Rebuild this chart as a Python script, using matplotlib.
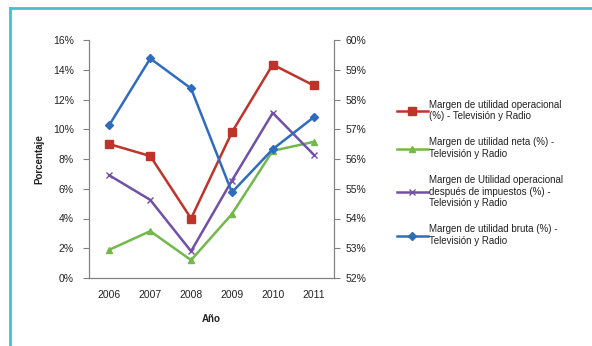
import matplotlib
matplotlib.use("Agg")
import matplotlib.pyplot as plt
from matplotlib.lines import Line2D

plt.rcParams["font.family"] = ["Liberation Sans", "DejaVu Sans"]

years = ["2006", "2007", "2008", "2009", "2010", "2011"]
op_margin = [9.0, 8.2, 4.0, 9.8, 14.35, 12.95]
net_margin = [1.9, 3.15, 1.2, 4.3, 8.55, 9.15]
op_after_tax = [6.9, 5.25, 1.8, 6.55, 11.1, 8.3]
gross_margin = [57.15, 59.38, 58.37, 54.88, 56.33, 57.4]

labels = [
    "Margen de utilidad operacional\n(%) - Televisión y Radio",
    "Margen de utilidad neta (%) -\nTelevisión y Radio",
    "Margen de Utilidad operacional\ndespués de impuestos (%) -\nTelevisión y Radio",
    "Margen de utilidad bruta (%) -\nTelevisión y Radio",
]

RED = "#c0332b"
GREEN = "#72b84a"
PURPLE = "#7050a8"
BLUE = "#2f6cc0"
GRAY = "#808080"
TXT = "#222222"

fig = plt.figure(figsize=(5.92, 3.46), dpi=100)
# cyan frame: top and left edges only
fig.add_artist(Line2D([10 / 592, 1], [1 - 8 / 346] * 2, color="#45c0d2", lw=2))
fig.add_artist(Line2D([10 / 592] * 2, [0, 1 - 8 / 346], color="#45c0d2", lw=2))

ax = fig.add_axes([89 / 592, (346 - 278) / 346, 245 / 592, 238 / 346])
ax2 = ax.twinx()
x = range(len(years))

h1, = ax.plot(x, op_margin, color=RED, lw=1.8, marker="s", ms=6, label=labels[0])
h2, = ax.plot(x, net_margin, color=GREEN, lw=1.8, marker="^", ms=4.5, label=labels[1])
h3, = ax.plot(x, op_after_tax, color=PURPLE, lw=1.8, marker="x", ms=5, mew=1, label=labels[2])
h4, = ax2.plot(x, gross_margin, color=BLUE, lw=1.8, marker="D", ms=3.8, label=labels[3])

ax.set_xlim(-0.5, 5.5)
ax.set_ylim(0, 16)
ax.set_yticks(range(0, 17, 2))
ax.set_yticklabels([f"{v}%" for v in range(0, 17, 2)])
ax2.set_ylim(52, 60)
ax2.set_yticks(range(52, 61))
ax2.set_yticklabels([f"{v}%" for v in range(52, 61)])
ax.set_xticks(list(x))
ax.set_xticklabels(years)

for a in (ax, ax2):
    a.spines["top"].set_visible(False)
    for s in ("left", "right", "bottom"):
        a.spines[s].set_color(GRAY)
ax.tick_params(axis="x", length=0, labelsize=7.5, labelcolor=TXT, pad=9)
ax.tick_params(axis="y", length=4, color=GRAY, labelsize=7.5, labelcolor=TXT, pad=7)
ax2.tick_params(axis="y", length=4, color=GRAY, labelsize=7.5, labelcolor=TXT, pad=4)

ax.set_xlabel("Año", fontsize=7, fontweight="bold", color=TXT, labelpad=10)
ax.set_ylabel("Porcentaje", fontsize=7, fontweight="bold", color=TXT, labelpad=6)

fig.legend(handles=[h1, h2, h3, h4], loc="upper left",
           bbox_to_anchor=(388 / 592, 1 - 91 / 346), frameon=False,
           fontsize=7, handlelength=3.2, handletextpad=0.1,
           labelspacing=1.65, labelcolor=TXT)

fig.savefig("out.png", dpi=100)
